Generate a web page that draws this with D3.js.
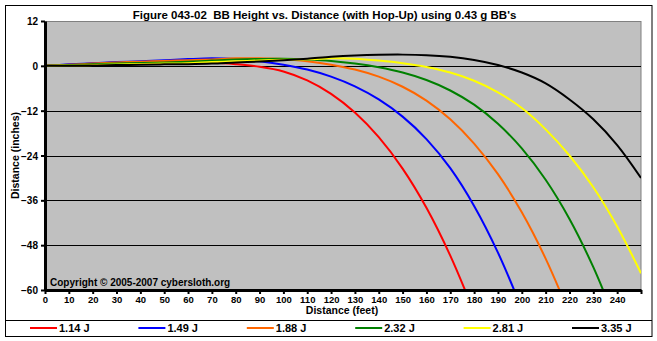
<!DOCTYPE html>
<html><head><meta charset="utf-8">
<script src="https://cdn.jsdelivr.net/npm/d3@7"></script>
<style>
html,body{margin:0;padding:0;background:#fff;}
svg{display:block;}
text{font-family:"Liberation Sans",Arial,sans-serif;font-weight:bold;fill:#000;white-space:pre;}
</style></head><body>
<svg id="c" width="657" height="341"></svg>
<script>
const distances = [0,10,20,30,40,50,60,70,80,90,100,110,120,130,140,150,160,170,180,190,200,210,220,230,240,250];
const seriesNames = ["1.14 J","1.49 J","1.88 J","2.32 J","2.81 J","3.35 J"];
const seriesColors = ["#FF0000","#0000FF","#FF6600","#008000","#FFFF00","#000000"];
const h114 = [0,0.3,0.6,0.9,1.0,1.1,1.0,0.9,0.45,-0.25,-1.5,-3.9,-7.5,-12.5,-19.1,-27.5,-38,-50.8,-66];
const h149 = [0,0.4,0.7,1.0,1.2,1.5,1.8,2.0,1.8,1.2,0.3,-1.0,-2.9,-5.5,-9.0,-13.6,-19.6,-27.4,-37.5,-50,-65];
const h188 = [0,0.3,0.6,0.9,1.1,1.3,1.5,1.7,2.0,2.0,1.8,1.2,0.3,-1.0,-2.9,-5.6,-9.3,-14.3,-20.8,-29,-39.2,-51.6,-66.4];
const h232 = [0,0.2,0.4,0.6,0.75,0.9,1.1,1.4,1.7,1.85,1.9,1.7,1.3,0.6,-0.4,-1.8,-3.8,-6.6,-10.4,-15.5,-22.1,-30.5,-41,-53.9,-69.4];
const h281 = [0,0.1,0.2,0.35,0.5,0.6,0.7,1.0,1.2,1.45,1.6,1.75,2.0,1.9,1.4,0.7,-0.3,-1.8,-4.0,-7.1,-11.3,-17.0,-24.0,-32.5,-43.0,-55.5];
const h335 = [0,0.05,0.1,0.2,0.3,0.4,0.45,0.6,0.9,1.15,1.5,1.9,2.4,2.75,2.95,3.0,2.85,2.4,1.55,0.2,-1.8,-4.7,-9.0,-14.3,-21.2,-30];
const heights = [h114,h149,h188,h232,h281,h335];
const xTicks = [0,10,20,30,40,50,60,70,80,90,100,110,120,130,140,150,160,170,180,190,200,210,220,230,240];
const yTicks = [12,0,-12,-24,-36,-48,-60];
const titleText = "Figure 043-02  BB Height vs. Distance (with Hop-Up) using 0.43 g BB's";

const svg = d3.select("#c");
const L=45,R=641,T=21,B=290;
const x = d3.scaleLinear([0,250],[L,R]);
const y = d3.scaleLinear([-60,12],[B,T]);

// outer frame
svg.append("rect").attr("x",5.5).attr("y",5.5).attr("width",646.5).attr("height",331).attr("fill","#fff").attr("stroke","#000").attr("stroke-width",1);
svg.append("line").attr("x1",5.5).attr("x2",652).attr("y1",320.5).attr("y2",320.5).attr("stroke","#000");

// plot area
svg.append("rect").attr("x",L).attr("y",T+0.5).attr("width",R-L).attr("height",B-T-0.5).attr("fill","#C0C0C0").attr("stroke","#808080").attr("stroke-width",1);

// gridlines
svg.append("g").selectAll("line").data(yTicks.filter(v=>v<12&&v>-60)).join("line")
  .attr("x1",L).attr("x2",R).attr("y1",d=>Math.round(y(d))+0.5).attr("y2",d=>Math.round(y(d))+0.5)
  .attr("stroke","#000").attr("stroke-width",1);

// clip
svg.append("clipPath").attr("id","pc").append("rect").attr("x",L).attr("y",T).attr("width",R-L).attr("height",B-T);

const line = d3.line().x((d,i)=>x(distances[i])).y(d=>y(d)).curve(d3.curveCatmullRom.alpha(0.5));
svg.append("g").attr("clip-path","url(#pc)").selectAll("path").data(heights).join("path")
  .attr("d",d=>line(d)).attr("fill","none").attr("stroke",(d,i)=>seriesColors[i]).attr("stroke-width",2);

// axes
const ya = svg.append("g").attr("transform",`translate(${L},0)`).call(d3.axisLeft(y).tickValues(yTicks).tickSize(4).tickSizeOuter(0).tickFormat(d3.format("d")));
ya.select(".domain").attr("stroke","#000").attr("stroke-width",3);
ya.selectAll(".tick line").attr("stroke","#000").attr("stroke-width",2);
ya.selectAll(".tick text").attr("font-size","10px").attr("font-family","Liberation Sans, Arial").attr("font-weight","bold").attr("x",-7).attr("dy","0.35em");

const xa = svg.append("g").attr("transform",`translate(0,${B})`).call(d3.axisBottom(x).tickValues(xTicks.concat([250])).tickSize(4).tickSizeOuter(0).tickFormat(d=>d===250?"":d));
xa.select(".domain").attr("stroke","#000").attr("stroke-width",3);
xa.selectAll(".tick line").attr("stroke","#000").attr("stroke-width",2);
xa.selectAll(".tick text").attr("font-size","9.5px").attr("font-family","Liberation Sans, Arial").attr("font-weight","bold").attr("y",6);

// titles
svg.append("text").attr("x",324.5).attr("y",19).attr("text-anchor","middle").attr("font-size","11.5px").text(titleText);
svg.append("text").attr("transform","translate(19,155.5) rotate(-90)").attr("text-anchor","middle").attr("font-size","10.5px").text("Distance (inches)");
svg.append("text").attr("x",342).attr("y",314).attr("text-anchor","middle").attr("font-size","10.5px").text("Distance (feet)");
svg.append("text").attr("x",50).attr("y",285.5).attr("font-size","10px").text("Copyright \u00A9 2005-2007 cybersloth.org");

// legend
const lg = svg.append("g").selectAll("g").data(seriesNames).join("g").attr("transform",(d,i)=>`translate(${30+i*108.4},328)`);
lg.append("line").attr("x1",0).attr("x2",27).attr("y1",0).attr("y2",0).attr("stroke",(d,i)=>seriesColors[i]).attr("stroke-width",2);
lg.append("text").attr("x",29).attr("y",4).attr("font-size","11px").text(d=>d);
</script>
</body></html>
